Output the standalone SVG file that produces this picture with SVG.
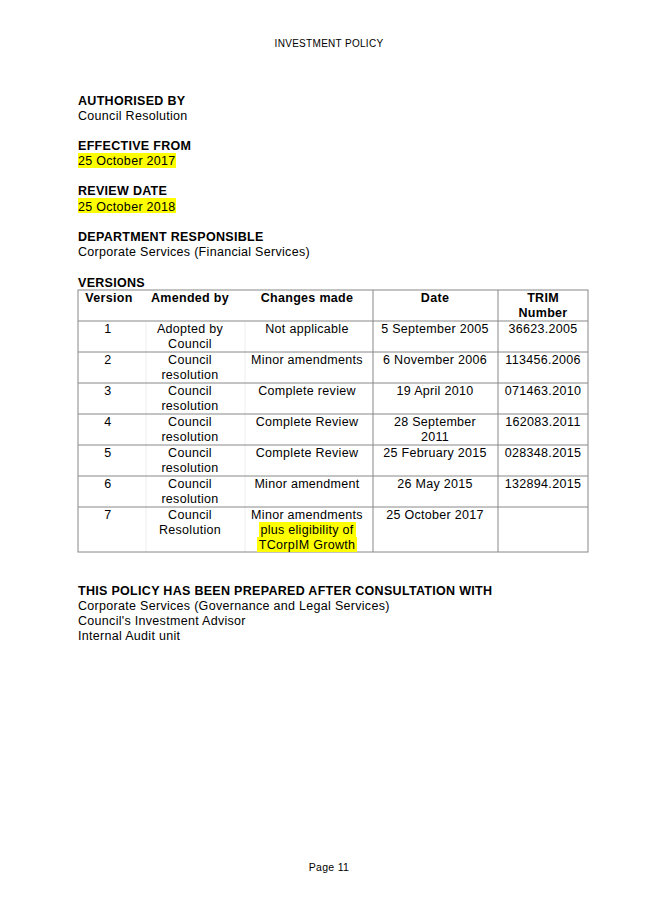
<svg xmlns="http://www.w3.org/2000/svg" width="653" height="924" viewBox="0 0 653 924">
<style>
text{font-family:"Liberation Sans",Arial,sans-serif;font-size:12.5px;fill:#000;letter-spacing:0.3px}
.b{font-weight:bold}
.c{text-anchor:middle}
.h{fill:#ffff00}
.g{stroke:#888;stroke-width:1}
.l{stroke:#eee;stroke-width:1}
</style>
<rect width="653" height="924" fill="#fff"/>
<text x="329" y="47" class="c" style="font-size:10px">INVESTMENT POLICY</text>
<g id="authorised">
<text x="78" y="105" class="b">AUTHORISED BY</text>
<text x="78" y="120">Council Resolution</text>
</g>
<g id="effective">
<text x="78" y="150" class="b">EFFECTIVE FROM</text>
<rect x="78" y="153" width="98" height="15" class="h"/>
<text x="78" y="165">25 October 2017</text>
</g>
<g id="review">
<text x="78" y="195" class="b">REVIEW DATE</text>
<rect x="78" y="198" width="98" height="15" class="h"/>
<text x="78" y="211">25 October 2018</text>
</g>
<g id="department">
<text x="78" y="241" class="b">DEPARTMENT RESPONSIBLE</text>
<text x="78" y="256">Corporate Services (Financial Services)</text>
</g>
<g id="versions">
<text x="78" y="287" class="b">VERSIONS</text>
<g fill="none">
<line x1="146" y1="321" x2="146" y2="552" class="l"/>
<line x1="245" y1="321" x2="245" y2="552" class="l"/>
<rect x="78" y="290" width="510" height="262" class="g"/>
<line x1="373" y1="290" x2="373" y2="552" class="g"/>
<line x1="498" y1="290" x2="498" y2="552" class="g"/>
<line x1="78" y1="321" x2="588" y2="321" class="g"/>
<line x1="78" y1="352" x2="588" y2="352" class="g"/>
<line x1="78" y1="383" x2="588" y2="383" class="g"/>
<line x1="78" y1="414" x2="588" y2="414" class="g"/>
<line x1="78" y1="445" x2="588" y2="445" class="g"/>
<line x1="78" y1="476" x2="588" y2="476" class="g"/>
<line x1="78" y1="507" x2="588" y2="507" class="g"/>
</g>
<text x="109" y="302" class="c b">Version</text>
<text x="190" y="302" class="c b">Amended by</text>
<text x="307" y="302" class="c b">Changes made</text>
<text x="435" y="302" class="c b">Date</text>
<text x="543" y="302" class="c b">TRIM</text>
<text x="543" y="317" class="c b">Number</text>
<text x="108" y="333" class="c">1</text><text x="190" y="333" class="c">Adopted by</text><text x="190" y="348" class="c">Council</text><text x="307" y="333" class="c">Not applicable</text><text x="435" y="333" class="c">5 September 2005</text><text x="543" y="333" class="c">36623.2005</text>
<text x="108" y="364" class="c">2</text><text x="190" y="364" class="c">Council</text><text x="190" y="379" class="c">resolution</text><text x="307" y="364" class="c">Minor amendments</text><text x="435" y="364" class="c">6 November 2006</text><text x="543" y="364" class="c">113456.2006</text>
<text x="108" y="395" class="c">3</text><text x="190" y="395" class="c">Council</text><text x="190" y="410" class="c">resolution</text><text x="307" y="395" class="c">Complete review</text><text x="435" y="395" class="c">19 April 2010</text><text x="543" y="395" class="c">071463.2010</text>
<text x="108" y="426" class="c">4</text><text x="190" y="426" class="c">Council</text><text x="190" y="441" class="c">resolution</text><text x="307" y="426" class="c">Complete Review</text><text x="435" y="426" class="c">28 September</text><text x="435" y="441" class="c">2011</text><text x="543" y="426" class="c">162083.2011</text>
<text x="108" y="457" class="c">5</text><text x="190" y="457" class="c">Council</text><text x="190" y="472" class="c">resolution</text><text x="307" y="457" class="c">Complete Review</text><text x="435" y="457" class="c">25 February 2015</text><text x="543" y="457" class="c">028348.2015</text>
<text x="108" y="488" class="c">6</text><text x="190" y="488" class="c">Council</text><text x="190" y="503" class="c">resolution</text><text x="307" y="488" class="c">Minor amendment</text><text x="435" y="488" class="c">26 May 2015</text><text x="543" y="488" class="c">132894.2015</text>
<rect x="259" y="522" width="97" height="15" class="h"/>
<rect x="257" y="537" width="100" height="15" class="h"/>
<text x="108" y="519" class="c">7</text><text x="190" y="519" class="c">Council</text><text x="190" y="534" class="c">Resolution</text><text x="307" y="519" class="c">Minor amendments</text><text x="307" y="534" class="c">plus eligibility of</text><text x="307" y="549" class="c">TCorpIM Growth</text><text x="435" y="519" class="c">25 October 2017</text>
</g>
<g id="consultation">
<text x="78" y="595" class="b">THIS POLICY HAS BEEN PREPARED AFTER CONSULTATION WITH</text>
<text x="78" y="610">Corporate Services (Governance and Legal Services)</text>
<text x="78" y="625">Council's Investment Advisor</text>
<text x="78" y="640">Internal Audit unit</text>
</g>
<text x="329" y="871" class="c" style="font-size:10.5px">Page 11</text>
</svg>
